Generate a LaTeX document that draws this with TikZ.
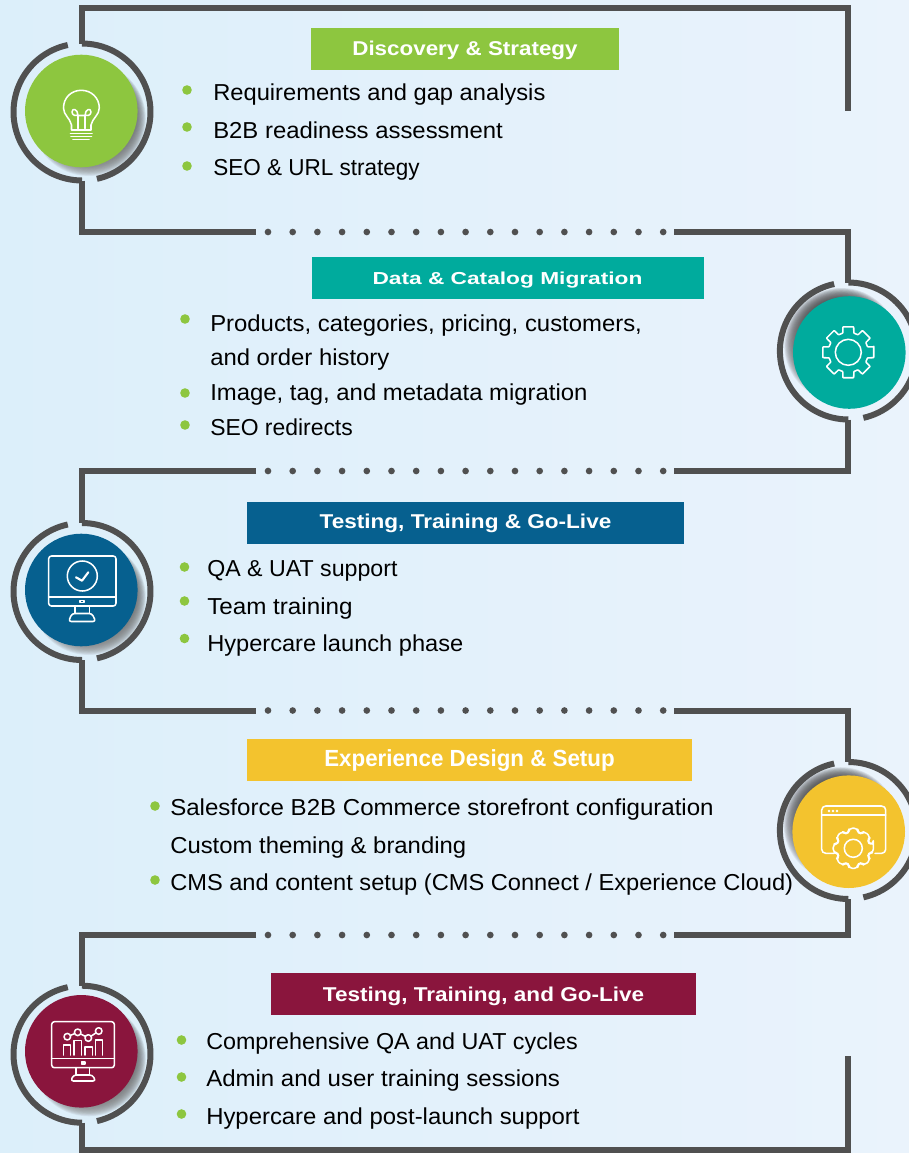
\documentclass[tikz,border=0pt]{standalone}
\usepackage{fontspec}
\setmainfont{Liberation Sans}
\definecolor{frame}{HTML}{505050}
\definecolor{cgreen}{HTML}{8DC63F}
\definecolor{cteal}{HTML}{00AB9D}
\definecolor{cblue}{HTML}{06608F}
\definecolor{cyellow}{HTML}{F3C32E}
\definecolor{cred}{HTML}{8A153D}
\definecolor{bgl}{HTML}{DCEFFA}
\definecolor{bgr}{HTML}{EAF3FC}
\definecolor{shade}{HTML}{4A5A68}
\tikzset{
  x=0.75pt,y=-0.75pt,
  frameline/.style={draw=frame,line width=4.5pt,line join=miter},
  ringline/.style={draw=frame,line width=4.5pt},
  iconline/.style={draw=white,line width=1.15pt,line join=round,line cap=round},
  item/.style={anchor=base west,inner sep=0pt,text=black,font=\fontsize{17.3}{20}\selectfont},
  dotc/.style={fill=frame,draw=none,circle,minimum size=5pt,inner sep=0pt},
  bullet/.style={fill=cgreen,draw=none,circle,minimum size=7.2pt,inner sep=0pt},
  headtext/.style={text=white,font=\bfseries\fontsize{#1}{20}\selectfont,inner sep=0pt},
}
\newcommand{\ring}[2]{%
  \draw[ringline] plot[domain=-90:77.4,samples=50] ({#1+68.5*cos(\x)},{#2+68.5*sin(\x)});
  \draw[ringline] plot[domain=90:258,samples=50] ({#1+68.5*cos(\x)},{#2+68.5*sin(\x)});
}
\newcommand{\disc}[5]{%
  \foreach \k in {0,...,14} {
    \fill[shade,opacity=0.06] ({#1+#4},{#2+#5}) circle ({57-\k*0.8});
  }
  \fill[#3] (#1,#2) circle (56.3);
}
\newcommand{\gear}[5]{%
  \draw[iconline,rounded corners=#5] ({#1+#3*cos(-12)},{#2+#3*sin(-12)})
   \foreach \a in {0,45,...,315} {
     -- ({#1+#3*cos(\a-12)},{#2+#3*sin(\a-12)})
     -- ({#1+#3*cos(\a+12)},{#2+#3*sin(\a+12)})
     -- ({#1+#4*cos(\a+16)},{#2+#4*sin(\a+16)})
     -- ({#1+#4*cos(\a+29)},{#2+#4*sin(\a+29)})
   } -- cycle;
}
\begin{document}
\begin{tikzpicture}
\useasboundingbox (0,0) rectangle (909,1153);
\shade[left color=bgl,right color=bgr,draw=none] (0,0) rectangle (909,1153);

\begin{scope}
\clip (0,0) rectangle (909,1153);
\disc{81.3}{111}{cgreen}{7.5}{8}
\disc{849.3}{352.5}{cteal}{-8}{-7.5}
\disc{81.3}{590}{cblue}{7.5}{8}
\disc{848.7}{831.7}{cyellow}{-8}{-7.5}
\disc{81.3}{1051.3}{cred}{7.5}{8}
\ring{82}{112}
\ring{848.4}{351}
\ring{82}{591.5}
\ring{848.4}{830.5}
\ring{82}{1054.2}
\end{scope}

% frame
\coordinate (a1) at (82,43.5);
\coordinate (a2) at (82,8.3);
\coordinate (a3) at (848.4,8.3);
\coordinate (a4) at (848.4,111);
\draw[frameline] (a1) -- (a2) -- (a3) -- (a4);
\coordinate (b1) at (82,180.5);
\coordinate (b2) at (82,232);
\coordinate (b3) at (256,232);
\coordinate (b4) at (674,232);
\coordinate (b5) at (848.4,232);
\coordinate (b6) at (848.4,282.5);
\draw[frameline] (b1) -- (b2) -- (b3);
\draw[frameline] (b4) -- (b5) -- (b6);
\coordinate (c1) at (848.4,419.5);
\coordinate (c2) at (848.4,471);
\coordinate (c3) at (674,471);
\coordinate (c4) at (256,471);
\coordinate (c5) at (82,471);
\coordinate (c6) at (82,523);
\draw[frameline] (c1) -- (c2) -- (c3);
\draw[frameline] (c4) -- (c5) -- (c6);
\coordinate (d1) at (82,660);
\coordinate (d2) at (82,710.5);
\coordinate (d3) at (256,710.5);
\coordinate (d4) at (674,710.5);
\coordinate (d5) at (848.4,710.5);
\coordinate (d6) at (848.4,762);
\draw[frameline] (d1) -- (d2) -- (d3);
\draw[frameline] (d4) -- (d5) -- (d6);
\coordinate (e1) at (848.4,899);
\coordinate (e2) at (848.4,935);
\coordinate (e3) at (674,935);
\coordinate (e4) at (256,935);
\coordinate (e5) at (82,935);
\coordinate (e6) at (82,985.7);
\draw[frameline] (e1) -- (e2) -- (e3);
\draw[frameline] (e4) -- (e5) -- (e6);
\coordinate (f1) at (82,1122.7);
\coordinate (f2) at (82,1150);
\coordinate (f3) at (848.4,1150);
\coordinate (f4) at (848.4,1056);
\draw[frameline] (f1) -- (f2) -- (f3) -- (f4);

\foreach \yy/\nm in {232/b,471/c,710.5/d,935/e} {
  \foreach \i in {0,...,16} {
    \node[dotc] (dot\nm\i) at ({268+\i*24.7},\yy) {};
  }
}

% headers
\fill[cgreen] (311,28) rectangle (619,70);
\node[headtext=15] (h1) at (465,50) {\scalebox{1.12}[1]{Discovery \& Strategy}};
\fill[cteal] (312,257) rectangle (704,299);
\node[headtext=13] (h2) at (507.5,280) {\scalebox{1.31}[1]{Data \& Catalog Migration}};
\fill[cblue] (247,502) rectangle (684,544);
\node[headtext=15] (h3) at (465.5,523) {\scalebox{1.128}[1]{Testing, Training \& Go-Live}};
\fill[cyellow] (247,739) rectangle (692,781);
\node[headtext=17.5] (h4) at (469.5,761) {\scalebox{0.957}[1]{Experience Design \& Setup}};
\fill[cred] (271,973) rectangle (696,1015);
\node[headtext=15] (h5) at (483.5,996) {\scalebox{1.126}[1]{Testing, Training, and Go-Live}};

\foreach \xx/\yy [count=\n] in {187/90,187/127,187/166,185/319,185/393,185/425,184.5/567,184.5/601,184.5/638.5,155/806,155/880,181.5/1040,181.5/1077,181.5/1114} {
  \node[bullet] (bul\n) at (\xx,\yy) {};
}

% text
\node[item] (t11) at (213,100) {\scalebox{1.028}[1]{Requirements and gap analysis}};
\node[item] (t12) at (213,138) {\scalebox{1.036}[1]{B2B readiness assessment}};
\node[item] (t13) at (213,175) {\scalebox{0.976}[1]{SEO \& URL strategy}};
\node[item] (t21) at (210,331) {\scalebox{1.036}[1]{Products, categories, pricing, customers,}};
\node[item] (t22) at (210,365) {\scalebox{1.035}[1]{and order history}};
\node[item] (t23) at (210,400) {\scalebox{1.036}[1]{Image, tag, and metadata migration}};
\node[item] (t24) at (210,435) {\scalebox{0.993}[1]{SEO redirects}};
\node[item] (t31) at (207,576) {\scalebox{1.005}[1]{QA \& UAT support}};
\node[item] (t32) at (207,614) {\scalebox{1.05}[1]{Team training}};
\node[item] (t33) at (207,651) {\scalebox{1.024}[1]{Hypercare launch phase}};
\node[item] (t41) at (170,815) {\scalebox{1.044}[1]{Salesforce B2B Commerce storefront configuration}};
\node[item] (t42) at (170,853) {\scalebox{1.035}[1]{Custom theming \& branding}};
\node[item] (t43) at (170,890) {\scalebox{1.025}[1]{CMS and content setup (CMS Connect / Experience Cloud)}};
\node[item] (t51) at (206,1049) {\scalebox{1.011}[1]{Comprehensive QA and UAT cycles}};
\node[item] (t52) at (206,1086) {\scalebox{1.041}[1]{Admin and user training sessions}};
\node[item] (t53) at (206,1124) {\scalebox{1.036}[1]{Hypercare and post-launch support}};

% bulb icon
\draw[iconline] (71.5,130) -- (71.5,125) .. controls (70,118) and (63.5,115) .. (63.5,108)
  .. controls (63.5,98) and (71,90.3) .. (81.3,90.3) .. controls (91.5,90.3) and (99.3,98) .. (99.3,108)
  .. controls (99.3,115) and (92.5,118) .. (91,125) -- (91,130) -- cycle;
\draw[iconline] (78,128.5) -- (78,115.5) .. controls (78,109) and (72,107.5) .. (72,112) .. controls (72,115.5) and (76,116) .. (78,115.5) -- (85,115.5) .. controls (87,116) and (91,115.5) .. (91,112) .. controls (91,107.5) and (85,109) .. (85,115.5) -- (85,128.5);
\draw[iconline] (70.5,133.3) -- (92,133.3);
\draw[iconline] (71,136.5) -- (91.5,136.5);
\draw[iconline] (73,139.5) -- (89,139.5);

% gear icon
\gear{848.3}{352.3}{26}{20}{0.4pt}
\draw[iconline] (848.3,352.3) circle (13);

% monitor check icon
\draw[iconline,rounded corners=2pt] (48.7,556) rectangle (116,606);
\draw[iconline] (48.7,597) -- (116,597);
\draw[iconline] (80,600.5) rectangle (84,602.5);
\draw[iconline] (82.3,576) circle (15);
\draw[iconline,line width=1.6pt] (76,577.3) -- (82,580.7) -- (88.3,572.3);
\draw[iconline] (75,606) -- (75,613.3);
\draw[iconline] (89.5,606) -- (89.5,613.3);
\draw[iconline,rounded corners=2pt] (72,613.5) -- (92,613.5) -- (95.7,621.5) -- (68.5,621.5) -- cycle;

% window gear icon
\draw[iconline,rounded corners=3pt] (834,853.3) -- (821.7,853.3) -- (821.7,806) -- (885.7,806) -- (885.7,853.3) -- (875,853.3);
\draw[iconline] (821.7,815) -- (885.7,815);
\foreach \xx in {829,833,837} { \fill[white] (\xx,811) circle (1.3); }
\gear{853.3}{848.3}{20.5}{16.5}{2.5pt}
\draw[iconline] (853.3,848.3) circle (9);

% chart monitor icon
\draw[iconline,rounded corners=2pt] (51.7,1021.7) rectangle (114.3,1067.7);
\draw[iconline] (51.7,1058.3) -- (114.3,1058.3);
\draw[iconline] (81.3,1062.2) rectangle (84.8,1063.8);
\draw[iconline] (76,1067.7) -- (76,1075);
\draw[iconline] (89.5,1067.7) -- (89.5,1075);
\draw[iconline,rounded corners=2pt] (73.5,1075) -- (92.5,1075) -- (95.7,1081) -- (70.7,1081) -- cycle;
\draw[iconline] (67.3,1036.7) circle (3.3) (77.7,1032.3) circle (3.3) (88.3,1038) circle (3.3) (98.7,1031) circle (3.3);
\draw[iconline] (70.4,1035.4) -- (74.6,1033.6) (80.6,1033.9) -- (85.4,1036.4) (91,1036.2) -- (96,1032.8);
\draw[iconline] (63.3,1055) -- (63.3,1045) -- (70.7,1045) -- (70.7,1055);
\draw[iconline] (74,1055) -- (74,1040.7) -- (81.7,1040.7) -- (81.7,1055);
\draw[iconline] (85,1055) -- (85,1047) -- (92.3,1047) -- (92.3,1055);
\draw[iconline] (95.7,1055) -- (95.7,1040) -- (102.3,1040) -- (102.3,1055);
\end{tikzpicture}
\end{document}
